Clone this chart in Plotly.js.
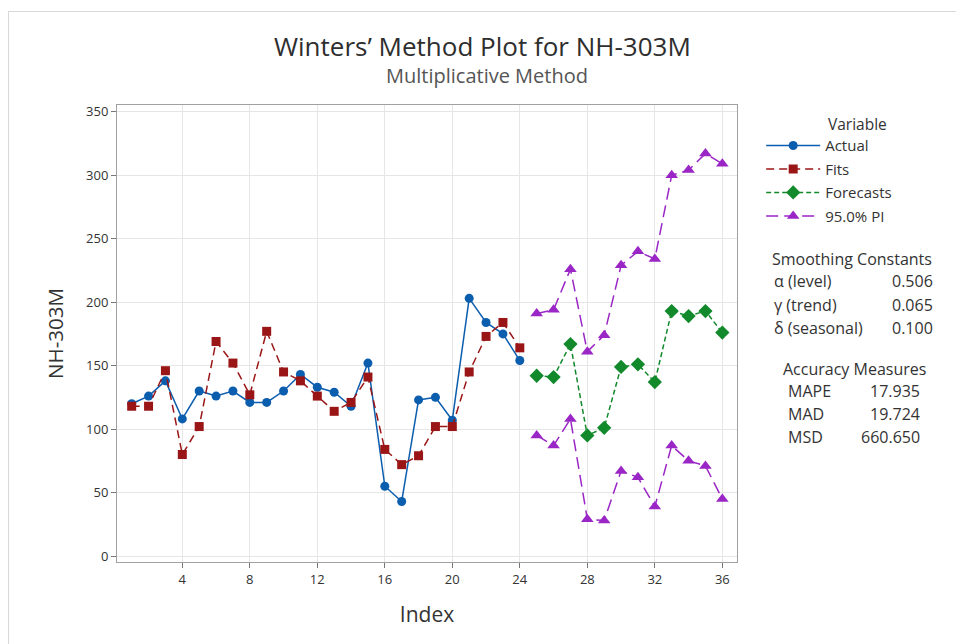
<!DOCTYPE html>
<html>
<head>
<meta charset="utf-8">
<script src="https://cdn.plot.ly/plotly-3.0.1.min.js"></script>
<style>
  html, body { margin: 0; padding: 0; background: #ffffff; }
  #wrap { position: relative; width: 956px; height: 644px; overflow: hidden; }
  #frame { position: absolute; left: 8px; top: 11px; width: 960px; height: 640px;
           border-left: 1px solid #d8d8d8; border-top: 1px solid #d8d8d8; pointer-events: none; }
  #chart { position: absolute; left: 0; top: 0; width: 956px; height: 644px; }
</style>
</head>
<body>
<div id="wrap">
  <div id="chart"></div>
  <div id="frame"></div>
</div>
<script>
// ---- data ----
const actualIndex = [1,2,3,4,5,6,7,8,9,10,11,12,13,14,15,16,17,18,19,20,21,22,23,24];
const actualValues = [120,126,138,108,130,126,130,121,121,130,143,133,129,118,152,55,43,123,125,107,203,184,175,154];
const fitsValues = [118,118,146,80,102,169,152,127,177,145,138,126,114,121,141,84,72,79,102,102,145,173,184,164];
const forecastIndex = [25,26,27,28,29,30,31,32,33,34,35,36];
const forecastValues = [142,141,167,95,101,149,151,137,193,189,193,176];
const upperPI = [191,194,226,161,174,229,240,234,300,304,317,309];
const lowerPI = [95,87,108,29,28,67,62,39,87,75,71,45];
const xTicks = [4,8,12,16,20,24,28,32,36];
const yTicks = [0,50,100,150,200,250,300,350];
const smoothingLabels = ["α (level)", "γ (trend)", "δ (seasonal)"];
const smoothingValues = ["0.506", "0.065", "0.100"];
const accuracyLabels = ["MAPE", "MAD", "MSD"];
const accuracyValues = ["17.935", "19.724", "660.650"];

const FONT = "Open Sans, Noto Sans, DejaVu Sans, sans-serif";
const TXT = "#333333";
const cBlue = "#0B5DAE", cRed = "#9A1616", cGreen = "#128A2C", cPurple = "#9A26C6";

const traces = [
  { x: actualIndex, y: actualValues, name: "Actual", type: "scatter", mode: "lines+markers",
    legendgroup: "a",
    line: { color: cBlue, width: 1.5 }, marker: { symbol: "circle", size: 9, color: cBlue } },
  { x: actualIndex, y: fitsValues, name: "Fits", type: "scatter", mode: "lines+markers",
    legendgroup: "f",
    line: { color: cRed, width: 1.5, dash: "8px,5px" }, marker: { symbol: "square", size: 9, color: cRed } },
  { x: forecastIndex, y: forecastValues, name: "Forecasts", type: "scatter", mode: "lines+markers",
    legendgroup: "fc",
    line: { color: cGreen, width: 1.5, dash: "5px,3px" }, marker: { symbol: "diamond", size: 11, color: cGreen } },
  { x: forecastIndex, y: upperPI, name: "95.0% PI", type: "scatter", mode: "lines+markers",
    legendgroup: "pi",
    line: { color: cPurple, width: 1.5, dash: "12px,6px" }, marker: { symbol: "triangle-up", size: 11, color: cPurple } },
  { x: forecastIndex, y: lowerPI, name: "95.0% PI", type: "scatter", mode: "lines+markers",
    legendgroup: "pi", showlegend: false,
    line: { color: cPurple, width: 1.5, dash: "12px,6px" }, marker: { symbol: "triangle-up", size: 11, color: cPurple } }
];

const ann = [];
function addText(text, x, xanchor, yshift, size, color) {
  ann.push({ text: text, xref: "paper", yref: "paper", x: x, y: 1, xanchor: xanchor, yanchor: "middle",
    yshift: yshift, showarrow: false, font: { family: FONT, size: size, color: color || TXT } });
}
// title & subtitle
addText("Winters’ Method Plot for NH-303M", 0.59, "center", 59, 26, "#2e2e2e");
addText("Multiplicative Method", 0.596, "center", 30, 20, "#555555");
// legend title
addText("Variable", 1.1435, "left", -19, 15.5);
// smoothing constants
addText("Smoothing Constants", 1.053, "left", -154, 16);
smoothingLabels.forEach((t, i) => {
  addText(t, 1.0565, "left", -176 - i * 23.5, 16);
  addText(smoothingValues[i], 1.319, "right", -176 - i * 23.5, 16);
});
addText("Accuracy Measures", 1.071, "left", -264, 16);
accuracyLabels.forEach((t, i) => {
  addText(t, 1.079, "left", -286 - i * 23, 16);
  addText(accuracyValues[i], 1.298, "right", -286 - i * 23, 16);
});

const layout = {
  width: 956, height: 644,
  margin: { l: 117, r: 219, t: 105, b: 82 },
  paper_bgcolor: "#ffffff", plot_bgcolor: "#ffffff",
  font: { family: FONT, color: TXT },
  showlegend: true,
  legend: { x: 1.039, xanchor: "left", y: 0.947, yanchor: "top", traceorder: "grouped", tracegroupgap: 1,
    font: { family: FONT, size: 15, color: TXT }, bgcolor: "rgba(0,0,0,0)", itemwidth: 54 },
  xaxis: {
    range: [0.13, 36.87], tickmode: "array", tickvals: xTicks, ticks: "outside", ticklen: 5, tickcolor: "#777777",
    showgrid: true, gridcolor: "#e6e6e6", gridwidth: 1, zeroline: false,
    showline: true, linecolor: "#a0a0a0", linewidth: 1, mirror: true,
    tickfont: { family: FONT, size: 13, color: TXT },
    title: { text: "Index", font: { family: FONT, size: 21, color: TXT }, standoff: 20 }
  },
  yaxis: {
    range: [-4.7, 355.3], tickmode: "array", tickvals: yTicks, ticks: "outside", ticklen: 5, tickcolor: "#777777",
    showgrid: true, gridcolor: "#e6e6e6", gridwidth: 1, zeroline: false,
    showline: true, linecolor: "#a0a0a0", linewidth: 1, mirror: true,
    tickfont: { family: FONT, size: 13, color: TXT },
    title: { text: "NH-303M", font: { family: FONT, size: 20.5, color: TXT }, standoff: 16 }
  },
  annotations: ann
};

Plotly.newPlot("chart", traces, layout, { displayModeBar: false, staticPlot: true });
</script>
</body>
</html>
